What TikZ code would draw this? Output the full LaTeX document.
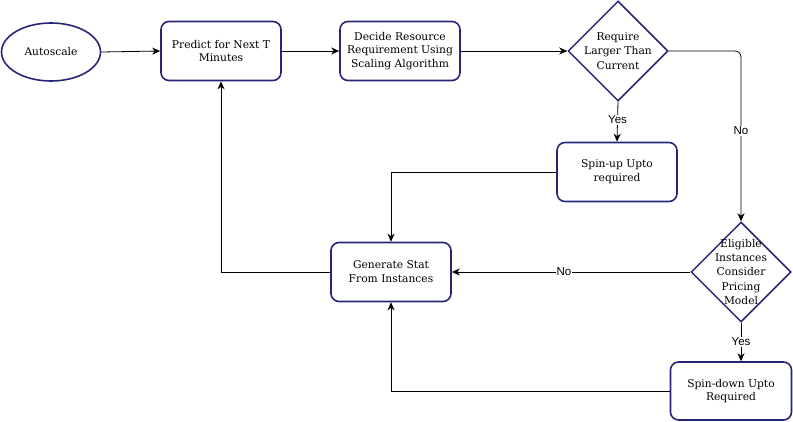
\documentclass[tikz,border=0pt]{standalone}
\usepackage{fontspec}
\setmainfont{DejaVu Serif}
\newfontfamily\lblfont{Liberation Sans}
\usetikzlibrary{shapes.geometric,arrows.meta}
\definecolor{navy}{RGB}{38,38,120}
\tikzset{
  box/.style={draw=navy, line width=1.6pt, rounded corners=8pt, minimum width=120pt, minimum height=59pt, align=center, font=\fontsize{10.7}{13.8}\selectfont, inner sep=1pt},
  dia/.style={draw=navy, line width=1.5pt, diamond, minimum width=100pt, minimum height=100pt, inner sep=0pt, aspect=1},
  dtext/.style={align=center, font=\fontsize{10.7}{14.2}\selectfont, inner sep=0pt},
  ell/.style={draw=navy, line width=1.6pt, ellipse, minimum width=99pt, minimum height=58pt, font=\fontsize{10.7}{13.5}\selectfont},
  conn/.style={draw=black, line width=0.8pt, -{Stealth[length=8pt,width=7pt,inset=2.5pt]}},
  lbl/.style={fill=white, inner sep=1pt, font=\lblfont\fontsize{11.5}{12}\selectfont}
}
\begin{document}
\begin{tikzpicture}[x=1pt,y=-1pt]
\useasboundingbox (0,0) rectangle (793,422);
\node[ell] (auto) at (51,52) {Autoscale};
\node[box] (pred) at (221,51) {Predict for Next T\\Minutes};
\node[box] (dec) at (400,51) {Decide Resource\\Requirement Using\\Scaling Algorithm};
\node[dia, label={[dtext]center:Require\\Larger Than\\Current}] (req) at (618,51) {};
\node[box] (up) at (617,172) {Spin-up Upto\\required};
\node[box] (gen) at (391,272) {Generate Stat\\From Instances};
\node[dia, label={[dtext]center:Eligible\\Instances\\Consider\\Pricing\\Model}] (elig) at (741,272) {};
\node[box, minimum width=121pt, minimum height=58pt] (down) at (731,391) {Spin-down Upto\\Required};

\draw[conn] (auto.east) -- (pred.west);
\draw[conn] (pred.east) -- (dec.west);
\draw[conn] (dec.east) -- (req.west);
\draw[conn] (req.south) -- node[lbl, pos=0.45] {Yes} (up.north);
\draw[conn, rounded corners=6pt] (req.east) -- (741,51) -- node[lbl, pos=0.47] {No} (elig.north);
\draw[conn] (up.west) -| (gen.north);
\draw[conn] (elig.west) -- node[lbl, pos=0.53] {No} (gen.east);
\draw[conn] (elig.south) -- node[lbl] {Yes} (elig.south |- down.north);
\draw[conn] (down.west) -| (gen.south);
\draw[conn] (gen.west) -| (pred.south);
\end{tikzpicture}
\end{document}
